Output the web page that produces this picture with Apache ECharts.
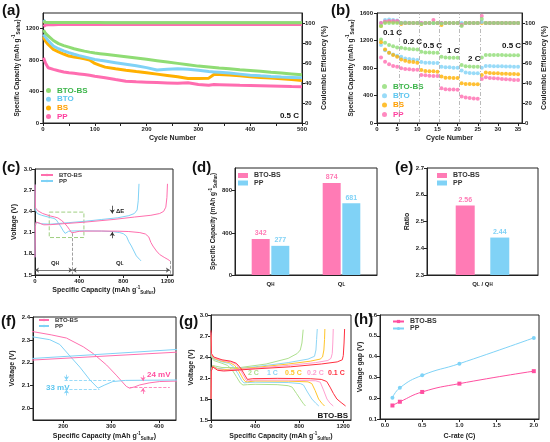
<!DOCTYPE html>
<html>
<head>
<meta charset="utf-8">
<script src="https://cdn.jsdelivr.net/npm/echarts@6/dist/echarts.min.js"></script>
<style>
html,body{margin:0;padding:0;background:#fff;}
#main{width:550px;height:442px;}
</style>
</head>
<body>
<div id="main"></div>
<script>
var FONT = '"Liberation Sans", Arial, sans-serif';

/* (a) long cycling, 0.5 C */
var cycA = [1,5,10,20,30,40,50,60,70,80,90,100,110,120,140,160,180,200,220,240,260,280,300,320,330,340,360,380,400,420,440,460,480,500];
var capA_btobs = [1185,1140,1110,1050,1010,985,965,945,930,915,902,890,882,874,858,842,826,810,793,776,759,742,724,712,706,700,690,679,669,658,646,635,624,613];
var capA_bto = [1129,1090,1050,980,945,918,895,875,858,842,826,809,798,788,768,748,728,705,675,685,692,685,670,655,650,645,635,622,609,600,592,585,580,575];
var capA_bs = [1095,1040,1000,937,905,878,852,840,829,818,801,758,733,711,690,672,655,639,622,605,588,567,567,571,618,618,612,600,588,580,572,562,552,541];
var capA_pp = [831,760,703,682,665,650,639,632,625,618,608,596,586,575,553,532,525,520,515,510,505,511,490,481,490,488,484,480,477,474,471,467,463,460];
var ceA_btobs = [102.0,100.8,100.6,100.5,100.5,100.5,100.4,100.4,100.4,100.4,100.4,100.4,100.4,100.3,100.3,100.3,100.3,100.3,100.3,100.3,100.3,100.3,100.3,100.3,100.3,100.2,100.2,100.2,100.2,100.2,100.2,100.2,100.2,100.2];
var ceA_bto = [103.0,100.2,100.1,100.0,100.0,100.0,100.0,100.0,100.0,100.0,100.0,100.0,100.0,100.0,100.0,100.0,100.0,100.0,100.0,100.0,100.0,100.0,100.0,100.0,100.0,100.0,100.0,100.0,100.0,100.0,100.0,100.0,100.0,100.0];
var ceA_bs = [101.5,100.0,100.0,100.0,100.0,100.0,100.0,100.0,100.0,100.0,100.0,100.0,100.0,100.0,100.0,100.0,100.0,100.0,100.0,100.0,100.0,100.0,100.0,100.0,100.0,100.0,100.0,100.0,100.0,100.0,100.0,100.0,100.0,100.0];
var ceA_pp = [96.5,98.0,98.2,98.3,98.4,98.4,98.4,98.4,98.4,98.4,98.4,98.4,98.4,98.4,98.4,98.4,98.4,98.4,98.4,98.4,98.4,98.4,98.4,98.4,98.4,98.4,98.4,98.4,98.4,98.4,98.4,98.4,98.4,98.4];

/* (b) rate performance */
var cycB = [1,2,3,4,5,6,7,8,9,10,11,12,13,14,15,16,17,18,19,20,21,22,23,24,25,26,27,28,29,30,31,32,33,34,35];
var capB_btobs = [1215,1166,1133,1118,1099,1094,1085,1078,1074,1070,1036,1026,1024,1022,1022,964,952,950,950,950,843,825,822,820,819,954,990,990,989,988,988,987,986,985,985];
var capB_bto = [1133,1060,1022,998,978,964,940,930,925,916,887,877,877,872,872,819,810,810,805,805,762,733,728,723,723,805,829,828,826,825,824,823,822,820,819];
var capB_bs = [1176,1070,1022,988,964,925,906,892,887,877,771,757,752,752,747,675,660,660,655,655,578,569,569,564,564,699,733,728,723,723,718,718,714,714,709];
var capB_pp = [954,892,853,829,819,795,786,781,776,776,699,694,689,684,684,506,492,487,487,482,386,371,362,357,352,641,665,656,651,646,641,636,631,627,627];
var ceB_btobs = [97,100,100,100,100,100,100,100,100,100,99,100,100,100,100,99.5,100,100,100,100,97,100,100,100,100,104,100,100,100,100,100,100,100,100,100];
var ceB_bto = [100,103,103.5,103,102.5,100,100.5,100,100,100,100,100,100,100,100,100,100,100,100,100,100,100,100,100,100,101,100,100,100,100,100,100,100,100,100];
var ceB_bs = [97,101,101.5,101,101,99,100,100,100,100,99,100,100,100,100,98,100,100,100,100,99,100,100,100,100,100,100,100,100,100,100,100,100,100,100];
var ceB_pp = [100,101.5,102,102,102,100,100,100,100,100,100,100,100,103,100,100,100,100,100,100,98,100,100,100,100,107,100,100,100,100,100,100,100,100,100];
var rateSwitchB = [5.5,10.5,15.5,20.5,25.5];

/* (c) and (f): charge/discharge profiles, [capacity, voltage] */
var dis_btobs = [[0,2.78],[4,2.45],[25,2.41],[70,2.37],[137,2.336],[175,2.322],[207,2.308],[242,2.27],[263,2.24],[291,2.19],[311,2.146],[332,2.097],[339,2.089],[350,2.095],[360,2.103],[380,2.112],[402,2.118],[450,2.121],[600,2.122],[750,2.12],[850,2.115],[950,2.1],[1000,2.08],[1030,2.04],[1050,1.96],[1068,1.91],[1100,1.84],[1129,1.79],[1170,1.75],[1204,1.72],[1222,1.70]];
var chg_btobs = [[0,1.75],[3,2.2],[12,2.25],[25,2.255],[45,2.23],[80,2.21],[137,2.212],[250,2.225],[444,2.247],[707,2.285],[900,2.32],[1050,2.345],[1129,2.37],[1165,2.40],[1185,2.46],[1195,2.6],[1200,2.79]];
var dis_pp = [[0,2.78],[4,2.42],[20,2.37],[60,2.345],[137,2.313],[172,2.301],[193,2.28],[214,2.23],[235,2.181],[256,2.125],[273,2.089],[277,2.085],[287,2.103],[304,2.118],[330,2.123],[450,2.125],[600,2.122],[700,2.115],[767,2.10],[800,2.085],[828,2.05],[850,1.97],[873,1.91],[918,1.77],[948,1.72],[960,1.70]];
var chg_pp = [[0,1.75],[3,2.2],[10,2.245],[25,2.24],[60,2.225],[137,2.219],[300,2.24],[444,2.259],[600,2.285],[750,2.31],[850,2.34],[900,2.37],[925,2.42],[935,2.55],[942,2.79]];

/* (d) and (e) */
var catD = ['QH','QL'];
var capD_btobs = [342,874];
var capD_pp = [277,681];
var catE = ['QL / QH'];
var ratioE_btobs = [2.56];
var ratioE_pp = [2.44];

/* (g) BTO-BS at different rates */
var rateG = ['2 C','1 C','0.5 C','0.2 C','0.1 C'];
var disG = [
    [[0,2.65],[4,2.4],[25,2.35],[100,2.31],[150,2.28],[190,2.22],[230,2.12],[265,2.03],[290,2.0],[330,2.005],[400,2.01],[600,2.005],[700,1.99],[736,1.97],[775,1.88],[809,1.80],[835,1.74],[857,1.70]],
    [[0,2.7],[4,2.42],[25,2.37],[100,2.33],[160,2.31],[205,2.26],[245,2.16],[280,2.06],[300,2.03],[330,2.035],[400,2.04],[700,2.035],[810,2.02],[839,2.0],[875,1.9],[915,1.80],[950,1.74],[978,1.70]],
    [[0,2.72],[4,2.43],[25,2.38],[100,2.34],[170,2.32],[215,2.28],[255,2.19],[290,2.09],[310,2.05],[330,2.045],[400,2.057],[700,2.055],[880,2.045],[915,2.02],[945,1.92],[976,1.80],[1005,1.74],[1030,1.70]],
    [[0,2.75],[4,2.44],[25,2.39],[100,2.35],[180,2.33],[225,2.3],[265,2.22],[300,2.12],[320,2.065],[340,2.06],[400,2.07],[700,2.07],[950,2.06],[991,2.04],[1020,1.93],[1052,1.80],[1080,1.74],[1109,1.70]],
    [[0,2.78],[4,2.45],[25,2.40],[100,2.36],[180,2.34],[230,2.31],[270,2.24],[300,2.16],[330,2.08],[345,2.075],[380,2.09],[600,2.095],[900,2.09],[1000,2.08],[1050,2.05],[1080,1.97],[1110,1.88],[1142,1.80],[1180,1.75],[1221,1.70]]
];
var chgG = [
    [[0,1.8],[3,2.2],[15,2.28],[40,2.27],[100,2.25],[266,2.25],[500,2.3],[700,2.38],[782,2.45],[810,2.5],[825,2.6],[836,2.79]],
    [[0,1.8],[3,2.2],[15,2.27],[30,2.26],[60,2.24],[150,2.22],[400,2.26],[700,2.32],[880,2.37],[939,2.41],[952,2.5],[958,2.65],[964,2.8]],
    [[0,1.8],[3,2.2],[15,2.27],[30,2.25],[60,2.23],[120,2.22],[400,2.25],[700,2.30],[900,2.34],[990,2.37],[1012,2.40],[1024,2.5],[1030,2.65],[1033,2.8]],
    [[0,1.8],[3,2.2],[15,2.26],[30,2.24],[60,2.22],[120,2.21],[400,2.24],[700,2.28],[950,2.32],[1060,2.35],[1088,2.38],[1100,2.45],[1105,2.6],[1109,2.8]],
    [[0,1.8],[3,2.2],[15,2.26],[30,2.25],[60,2.21],[115,2.2],[400,2.23],[721,2.26],[1000,2.3],[1145,2.33],[1191,2.36],[1200,2.42],[1207,2.6],[1212,2.8]]
];
var colG = ['#aee08e','#8fd6f6','#ffc52a','#ff9fd0','#ff2f3f'];

/* (h) voltage gap vs rate */
var rateH = [0.1,0.2,0.5,1.0,2.0];
var gapH_btobs = [0.165,0.183,0.230,0.270,0.330];
var gapH_pp = [0.202,0.250,0.310,0.366,0.490];

var cGreen = '#8fdc74', cGreenT = '#3cb54a';
var cBlue = '#80d2f6', cBlueT = '#5cc6f0';
var cOrange = '#ffb000', cOrangeT = '#ff9f00';
var cPink = '#ff6db0', cPinkT = '#ff3f9e';

function pairs(xs, ys) {
    return xs.map(function (x, i) { return [x, ys[i]]; });
}
function mix(a, b) {
    for (var k in b) {
        if (b[k] && typeof b[k] === 'object' && !Array.isArray(b[k]) && a[k] && typeof a[k] === 'object') {
            mix(a[k], b[k]);
        } else {
            a[k] = b[k];
        }
    }
    return a;
}
function rich() {
    return {
        sup: {fontSize: 4.5, fontWeight: 'bold', fontFamily: FONT, color: '#222', verticalAlign: 'top', lineHeight: 5},
        s: {fontSize: 4.5, fontWeight: 'bold', fontFamily: FONT, color: '#222', verticalAlign: 'bottom', lineHeight: 5}
    };
}
function plain(v) { return String(v); }
function axis(gi, extra) {
    return mix({
        gridIndex: gi, type: 'value', nameLocation: 'middle',
        axisLine: {show: true, onZero: false, lineStyle: {color: '#222', width: 1}},
        axisTick: {show: true, length: 3, lineStyle: {color: '#222'}},
        axisLabel: {fontSize: 6, fontWeight: 'bold', color: '#222', fontFamily: FONT, margin: 3, formatter: plain, rich: rich()},
        splitLine: {show: false},
        nameTextStyle: {fontSize: 7, fontWeight: 'bold', color: '#222', fontFamily: FONT, lineHeight: 10, rich: rich()}
    }, extra || {});
}
function fix1(v) { return (+v).toFixed(1); }
var CAP_NAME = 'Specific Capacity (mAh g{sup|-1}{s|Sulfur})';
var CAP_STYLE = {fontSize: 6.5};

function legendOf(left, top, items, extra) {
    return mix({
        left: left, top: top, orient: 'vertical', padding: 0, selectedMode: false,
        itemGap: 1, itemWidth: 10, itemHeight: 5,
        formatter: function (n) { return n.split('|')[1]; },
        textStyle: {fontSize: 7, fontWeight: 'bold', fontFamily: FONT, padding: [0, 0, 0, -2]},
        data: items.map(function (it) { return {name: it[0], textStyle: {color: it[1]}}; })
    }, extra || {});
}
function line(name, xi, yi, data, color, w, extra) {
    return mix({
        name: name, type: 'line', xAxisIndex: xi, yAxisIndex: yi, data: data,
        showSymbol: false, symbol: 'none', lineStyle: {color: color, width: w}, itemStyle: {color: color},
        silent: true, animation: false
    }, extra || {});
}
function dot(name, yi, data, color) {
    return {
        name: name, type: 'scatter', xAxisIndex: 1, yAxisIndex: yi, data: data,
        symbolSize: 4, itemStyle: {color: color}, silent: true, animation: false
    };
}
function seg(p, q, color, type, s1, s2) {
    return [
        {coord: p, symbol: s1 || 'none', symbolSize: 4, lineStyle: {color: color, type: type, width: 0.8}},
        {coord: q, symbol: s2 || 'none', symbolSize: 4, lineStyle: {color: color, type: type, width: 0.8}}
    ];
}
function txt(x, y, s, color, size, align) {
    return {
        type: 'text', x: x, y: y, silent: true,
        style: {text: s, fill: color || '#111', font: 'bold ' + (size || 8) + 'px ' + FONT,
            align: align || 'left', verticalAlign: 'middle', rich: {s: {fontSize: 4.5, fontWeight: 'bold', fill: color || '#111', verticalAlign: 'bottom', lineHeight: 5}}}
    };
}

var chart = echarts.init(document.getElementById('main'));

var grids = [
    [43, 13, 259, 110], [377, 13, 149, 110],
    [35, 169, 138, 106], [235, 168, 142, 107], [427, 168, 111, 107],
    [33, 317, 143, 103], [211, 315, 140, 105], [380, 315, 159, 105]
].map(function (g) {
    return {left: g[0], top: g[1], width: g[2], height: g[3], show: true, borderColor: '#222', borderWidth: 1, backgroundColor: 'transparent'};
});

var xAxes = [
    axis(0, {min: 0, max: 500, name: 'Cycle Number', nameGap: 10,
        axisLabel: {customValues: [0,100,200,300,400,500]}, axisTick: {customValues: [0,50,100,150,200,250,300,350,400,450,500]}}),
    axis(1, {min: 0, max: 36, name: 'Cycle Number', nameGap: 10,
        axisLabel: {customValues: [0,5,10,15,20,25,30,35]}, axisTick: {customValues: [0,5,10,15,20,25,30,35]}}),
    axis(2, {min: 0, max: 1250, name: CAP_NAME, nameGap: 10,
        axisLabel: {customValues: [0,400,800,1200]}, axisTick: {customValues: [0,400,800,1200]}}),
    axis(3, {type: 'category', data: catD, axisTick: {show: false},
        axisLabel: {margin: 6, formatter: function (v) { return v.charAt(0) + '{s|' + v.slice(1) + '}'; }}}),
    axis(4, {type: 'category', data: catE, axisTick: {show: false},
        axisLabel: {margin: 6, formatter: function () { return 'Q{s|L} / Q{s|H}'; }}}),
    axis(5, {min: 137, max: 436, name: CAP_NAME, nameGap: 11,
        axisLabel: {customValues: [200,300,400]}, axisTick: {customValues: [200,300,400]}}),
    axis(6, {min: 0, max: 1270, name: CAP_NAME, nameGap: 11,
        axisLabel: {customValues: [0,400,800,1200]}, axisTick: {customValues: [0,400,800,1200]}}),
    axis(7, {min: -0.067, max: 2.07, name: 'C-rate (C)', nameGap: 12,
        axisLabel: {customValues: [0,0.5,1,1.5,2], formatter: fix1}, axisTick: {customValues: [0,0.5,1,1.5,2]}})
];

var yAxes = [
    axis(0, {min: 0, max: 1400, name: CAP_NAME, nameGap: 18, nameTextStyle: CAP_STYLE,
        axisLabel: {customValues: [0,400,800,1200], margin: 4}, axisTick: {customValues: [0,400,800,1200]}}),
    axis(0, {min: 0, max: 110, position: 'right', name: 'Coulombic Efficiency (%)', nameGap: 12, nameRotate: 90,
        axisLabel: {customValues: [0,20,40,60,80,100]}, axisTick: {customValues: [0,20,40,60,80,100]}}),
    axis(1, {min: 0, max: 1600, name: CAP_NAME, nameGap: 18, nameTextStyle: CAP_STYLE,
        axisLabel: {customValues: [0,400,800,1200,1600], margin: 4}, axisTick: {customValues: [0,400,800,1200,1600]}}),
    axis(1, {min: 0, max: 110, position: 'right', name: 'Coulombic Efficiency (%)', nameGap: 14, nameRotate: 90,
        axisLabel: {customValues: [0,20,40,60,80,100]}, axisTick: {customValues: [0,20,40,60,80,100]}}),
    axis(2, {min: 1.5, max: 3.0, name: 'Voltage (V)', nameGap: 16,
        axisLabel: {customValues: [1.5,1.8,2.1,2.4,2.7,3.0], formatter: fix1}, axisTick: {customValues: [1.5,1.8,2.1,2.4,2.7,3.0]}}),
    axis(3, {min: 0, max: 1016, name: CAP_NAME, nameGap: 14, nameTextStyle: CAP_STYLE,
        axisLabel: {customValues: [0,400,800]}, axisTick: {customValues: [0,400,800]}}),
    axis(4, {min: 2.3, max: 2.7, name: 'Ratio', nameGap: 10,
        axisLabel: {customValues: [2.3,2.4,2.5,2.6,2.7], formatter: fix1}, axisTick: {customValues: [2.3,2.4,2.5,2.6,2.7]}}),
    axis(5, {min: 1.95, max: 2.4, name: 'Voltage (V)', nameGap: 16,
        axisLabel: {customValues: [2.0,2.1,2.2,2.3,2.4], formatter: fix1}, axisTick: {customValues: [2.0,2.1,2.2,2.3,2.4]}}),
    axis(6, {min: 1.5, max: 3.0, name: 'Voltage (V)', nameGap: 15,
        axisLabel: {customValues: [1.5,1.8,2.1,2.4,2.7,3.0], formatter: fix1}, axisTick: {customValues: [1.5,1.8,2.1,2.4,2.7,3.0]}}),
    axis(7, {min: 0.1, max: 0.6, name: 'Voltage gap (V)', nameGap: 11,
        axisLabel: {customValues: [0.1,0.2,0.3,0.4,0.5,0.6], formatter: fix1}, axisTick: {customValues: [0.1,0.2,0.3,0.4,0.5,0.6]}})
];

var series = [];
/* (a) */
series.push(line('a|ce-bs', 0, 1, pairs(cycA, ceA_bs), cOrange, 3));
series.push(line('a|ce-bto', 0, 1, pairs(cycA, ceA_bto), cBlue, 3));
series.push(line('a|ce-pp', 0, 1, pairs(cycA, ceA_pp), cPink, 3));
series.push(line('a|ce-btobs', 0, 1, pairs(cycA, ceA_btobs), cGreen, 3));
series.push(line('a|PP', 0, 0, pairs(cycA, capA_pp), cPink, 3));
series.push(line('a|BS', 0, 0, pairs(cycA, capA_bs), cOrange, 3));
series.push(line('a|BTO', 0, 0, pairs(cycA, capA_bto), cBlue, 3));
series.push(line('a|BTO-BS', 0, 0, pairs(cycA, capA_btobs), cGreen, 3));
/* (b) */
series.push(dot('b|ce-bs', 3, pairs(cycB, ceB_bs), cOrange));
series.push(dot('b|ce-bto', 3, pairs(cycB, ceB_bto), cBlue));
series.push(dot('b|ce-pp', 3, pairs(cycB, ceB_pp), cPink));
series.push(dot('b|ce-btobs', 3, pairs(cycB, ceB_btobs), cGreen));
var bFirst = dot('b|BTO-BS', 2, pairs(cycB, capB_btobs), cGreen);
bFirst.markLine = {
    silent: true, symbol: 'none', label: {show: false},
    lineStyle: {color: '#aaa', width: 0.8, type: [4, 2, 1, 2]},
    data: rateSwitchB.map(function (x) { return {xAxis: x}; })
};
series.push(bFirst);
series.push(dot('b|BTO', 2, pairs(cycB, capB_bto), cBlue));
series.push(dot('b|BS', 2, pairs(cycB, capB_bs), cOrange));
series.push(dot('b|PP', 2, pairs(cycB, capB_pp), cPink));
/* (c) */
var pinkL = '#ff6fae', blueL = '#80d2f6';
series.push(line('c|PP', 2, 4, dis_pp, blueL, 1));
series.push(line('c|pp-ch', 2, 4, chg_pp, blueL, 1));
series.push(line('c|BTO-BS', 2, 4, dis_btobs, pinkL, 1, {
    markArea: {silent: true, itemStyle: {color: 'rgba(0,0,0,0)', borderColor: '#9fcf82', borderWidth: 1, borderType: 'dashed'},
        data: [[{coord: [129, 2.39]}, {coord: [443, 2.03]}]]},
    markLine: {silent: true, label: {show: false}, data: [
        seg([340, 2.09], [340, 1.5], '#888', 'dashed'),
        seg([1222, 1.70], [1222, 1.5], '#888', 'dashed'),
        seg([0, 1.57], [340, 1.57], '#555', 'solid', 'arrow', 'arrow'),
        seg([340, 1.57], [1222, 1.57], '#555', 'solid', 'arrow', 'arrow'),
        seg([700, 2.48], [700, 2.37], '#333', 'solid', 'none', 'arrow'),
        seg([700, 2.02], [700, 2.11], '#333', 'solid', 'none', 'arrow')
    ]}
}));
series.push(line('c|btobs-ch', 2, 4, chg_btobs, pinkL, 1));
/* (d) */
function bar(name, xi, yi, data, color, w, gap) {
    return {name: name, type: 'bar', xAxisIndex: xi, yAxisIndex: yi, data: data, barWidth: w, barGap: gap,
        itemStyle: {color: color}, silent: true, animation: false,
        label: {show: true, position: 'top', distance: 2, color: color, fontSize: 7, fontWeight: 'bold', fontFamily: FONT}};
}
series.push(bar('d|BTO-BS', 3, 5, capD_btobs, '#ff7bb5', 18, '9%'));
series.push(bar('d|PP', 3, 5, capD_pp, blueL, 18, '9%'));
/* (e) */
series.push(bar('e|BTO-BS', 4, 6, ratioE_btobs, '#ff7bb5', 19, '82%'));
series.push(bar('e|PP', 4, 6, ratioE_pp, blueL, 19, '82%'));
/* (f) zoom of (c) */
series.push(line('f|BTO-BS', 5, 7, dis_btobs, pinkL, 1, {
    markLine: {silent: true, label: {show: false}, data: [
        seg([339, 2.092], [423, 2.092], pinkL, 'dashed'),
        seg([367, 2.145], [367, 2.12], pinkL, 'solid', 'none', 'arrow'),
        seg([367, 2.064], [367, 2.09], pinkL, 'solid', 'none', 'arrow')
    ]}
}));
series.push(line('f|PP', 5, 7, dis_pp, blueL, 1, {
    markLine: {silent: true, label: {show: false}, data: [
        seg([203, 2.122], [308, 2.122], blueL, 'dashed'),
        seg([203, 2.085], [276, 2.085], blueL, 'dashed'),
        seg([207, 2.148], [207, 2.124], blueL, 'solid', 'none', 'arrow'),
        seg([207, 2.057], [207, 2.083], blueL, 'solid', 'none', 'arrow')
    ]}
}));
series.push(line('f|btobs-ch', 5, 7, chg_btobs, pinkL, 1));
series.push(line('f|pp-ch', 5, 7, chg_pp, blueL, 1));
/* (g) */
rateG.forEach(function (r, i) {
    series.push(line('g|' + r, 6, 8, disG[i], colG[i], 1));
    series.push(line('g|' + r + ' ch', 6, 8, chgG[i], colG[i], 1));
});
/* (h) */
series.push(line('h|BTO-BS', 7, 9, pairs(rateH, gapH_btobs), '#ff4fa0', 1,
    {smooth: true, showSymbol: true, symbol: 'rect', symbolSize: 4}));
series.push(line('h|PP', 7, 9, pairs(rateH, gapH_pp), '#7fd3f7', 1,
    {smooth: true, showSymbol: true, symbol: 'circle', symbolSize: 4}));

var legends = [
    legendOf(46, 86.5, [['a|BTO-BS', cGreenT], ['a|BTO', cBlueT], ['a|BS', cOrangeT], ['a|PP', cPinkT]],
        {icon: 'circle', itemWidth: 5, itemHeight: 5, itemGap: 0.7, textStyle: {fontSize: 8, padding: [0, 0, 0, 1]}}),
    legendOf(382, 82.5, [['b|BTO-BS', cGreenT], ['b|BTO', cBlueT], ['b|BS', cOrangeT], ['b|PP', cPinkT]],
        {icon: 'circle', itemWidth: 5, itemHeight: 5, itemGap: 1.3, textStyle: {fontSize: 8, padding: [0, 0, 0, 1]}}),
    legendOf(40, 172, [['c|BTO-BS', '#333'], ['c|PP', '#333']],
        {itemWidth: 12, itemHeight: 3, itemGap: 0, textStyle: {fontSize: 6, lineHeight: 6, padding: [0, 0, 0, 1]}}),
    legendOf(238, 172, [['d|BTO-BS', '#333'], ['d|PP', '#333']],
        {icon: 'rect', itemWidth: 10, itemHeight: 5, itemGap: 0.5, textStyle: {fontSize: 7, padding: [0, 0, 0, 1]}}),
    legendOf(437, 172, [['e|BTO-BS', '#333'], ['e|PP', '#333']],
        {icon: 'rect', itemWidth: 10, itemHeight: 5, itemGap: 0.5, textStyle: {fontSize: 7, padding: [0, 0, 0, 1]}}),
    legendOf(38, 317, [['f|BTO-BS', '#333'], ['f|PP', '#333']],
        {itemWidth: 10, itemHeight: 3, itemGap: 0, textStyle: {fontSize: 6, lineHeight: 6, padding: [0, 0, 0, 1]}}),
    legendOf(392, 318, [['h|BTO-BS', '#333'], ['h|PP', '#333']],
        {itemWidth: 11, itemHeight: 4, itemGap: 0, textStyle: {fontSize: 7, lineHeight: 7, padding: [0, 0, 0, 1]}})
];

var graphics = [
    txt(2, 11, '(a)', '#111', 15), txt(331, 11, '(b)', '#111', 15),
    txt(2, 168, '(c)', '#111', 15), txt(192, 168, '(d)', '#111', 15), txt(395, 168, '(e)', '#111', 15),
    txt(1, 322, '(f)', '#111', 15), txt(179, 322, '(g)', '#111', 15), txt(354, 320, '(h)', '#111', 15),
    txt(299, 116, '0.5 C', '#111', 8, 'right'),
    txt(383, 33, '0.1 C', '#111', 8), txt(403, 42, '0.2 C', '#111', 8), txt(423, 46, '0.5 C', '#111', 8),
    txt(447, 51, '1 C', '#111', 8), txt(468, 59, '2 C', '#111', 8), txt(502, 46, '0.5 C', '#111', 8),
    txt(116, 211, '\u0394E', '#222', 6),
    txt(51, 263, 'Q{s|H}', '#222', 6), txt(116, 263, 'Q{s|L}', '#222', 6),
    txt(46, 388, '33 mV', '#5cc6f0', 8), txt(147, 375, '24 mV', '#ff4fa0', 8),
    txt(248, 373, '2 C', colG[0], 7), txt(267, 373, '1 C', colG[1], 7), txt(285, 373, '0.5 C', colG[2], 7),
    txt(307, 373, '0.2 C', colG[3], 7), txt(328, 373, '0.1 C', colG[4], 7),
    txt(348, 416, 'BTO-BS', '#111', 8, 'right')
];

chart.setOption({
    backgroundColor: '#fff',
    animation: false,
    textStyle: {fontFamily: FONT},
    grid: grids,
    xAxis: xAxes,
    yAxis: yAxes,
    legend: legends,
    series: series,
    graphic: graphics
});
</script>
</body>
</html>
